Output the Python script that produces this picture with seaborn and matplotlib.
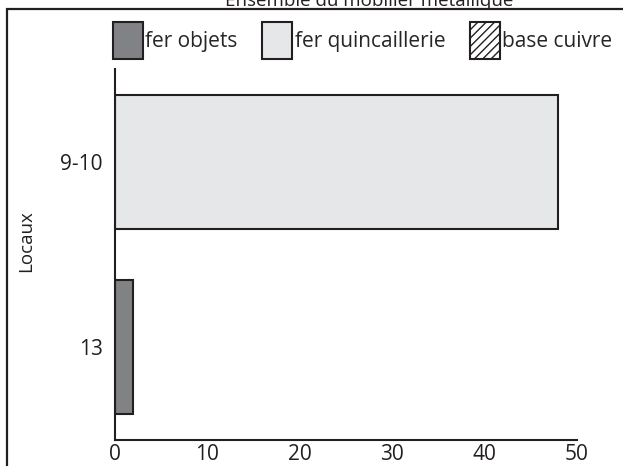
import matplotlib
matplotlib.use("Agg")
import matplotlib.pyplot as plt
from matplotlib.patches import Patch, Rectangle
import seaborn as sns
import pandas as pd

# données
locaux = ["9-10", "9-10", "9-10", "13", "13", "13"]
types = ["fer objets", "fer quincaillerie", "base cuivre"] * 2
valeurs = [0, 48, 0, 2, 0, 0]

categories = ["fer objets", "fer quincaillerie", "base cuivre"]
couleurs = {"fer objets": "#808285", "fer quincaillerie": "#e6e7e8", "base cuivre": "#ffffff"}
hachures = {"fer objets": "", "fer quincaillerie": "", "base cuivre": "////"}

titre = "Ensemble du mobilier métallique"
xticks = [0, 10, 20, 30, 40, 50]

df = pd.DataFrame({"Locaux": locaux, "type": types, "nb": valeurs})

sns.set_style("white")
plt.rcParams["font.family"] = ["Open Sans", "DejaVu Sans"]
plt.rcParams["hatch.linewidth"] = 1.0
encre = "#231f20"

fig = plt.figure(figsize=(6.23, 4.66), dpi=100)
ax = fig.add_axes([115 / 623, 1 - 440 / 466, (576.7 - 115) / 623, (440 - 69) / 466])

sns.barplot(data=df, x="nb", y="Locaux", hue="type", hue_order=categories,
            palette=couleurs, dodge=False, orient="h", width=0.72,
            edgecolor=encre, linewidth=1.5, ax=ax, legend=False)

for cont, cat in zip(ax.containers, categories):
    for p in cont:
        p.set_hatch(hachures[cat])
        if p.get_width() == 0:
            p.set_visible(False)

ax.set_xlim(0, 50)
ax.set_ylim(1.5, -0.5)
ax.set_xticks(xticks)
ax.set_xlabel("")
ax.set_ylabel("Locaux", fontsize=13.5, color=encre)
ax.yaxis.set_label_coords(-0.172, 0.536)
ax.tick_params(axis="x", direction="in", length=6, width=1.5, color=encre,
               labelsize=15, pad=3, labelcolor=encre)
ax.tick_params(axis="y", length=0, labelsize=15, pad=9, labelcolor=encre)
sns.despine(ax=ax)
for s in ["left", "bottom"]:
    ax.spines[s].set_linewidth(1.5)
    ax.spines[s].set_color(encre)

poignees = [Patch(facecolor=couleurs[c], edgecolor=encre, hatch=hachures[c], linewidth=1.5)
            for c in categories]
fig.legend(poignees, categories, loc="upper left", ncol=3,
           bbox_to_anchor=(113 / 623, 1 - 22 / 466), frameon=False,
           fontsize=15, handlelength=1.44, handleheight=2.355,
           handletextpad=0.1, columnspacing=1.2, borderpad=0, borderaxespad=0)

# cadre autour de la figure (coupé en bas et à droite)
fig.patches.append(Rectangle((6.5 / 623, -0.05), 1.0, 1.05 - 9.5 / 466,
                             transform=fig.transFigure, fill=False,
                             edgecolor=encre, linewidth=1.6))
fig.text(369 / 623, 1 - 6 / 466, titre, ha="center", va="baseline",
         fontsize=13.5, color=encre)

fig.savefig("out.png", dpi=100)
